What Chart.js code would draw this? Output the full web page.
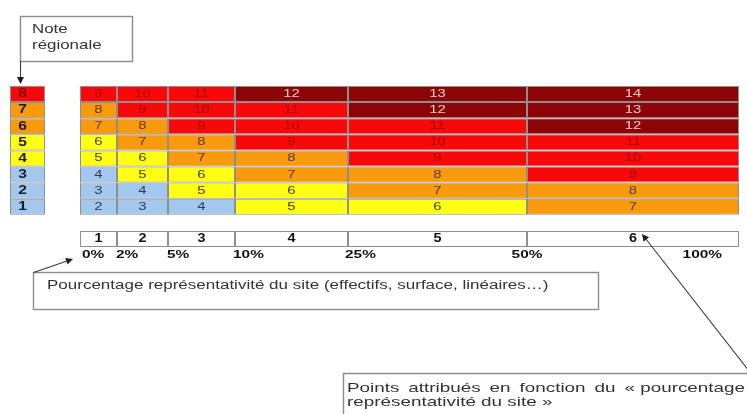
<!DOCTYPE html>
<html>
<head>
<meta charset="utf-8">
<script src="https://cdn.jsdelivr.net/npm/chart.js@4"></script>
<style>
html,body{margin:0;padding:0;background:#fff;}
#wrap{width:747px;height:414px;position:relative;}
</style>
</head>
<body>
<div id="wrap"><canvas id="c" width="747" height="414"></canvas></div>
<script>
// ---------- DATA ----------
const notes = [8, 7, 6, 5, 4, 3, 2, 1];            // note régionale, top to bottom
const points = [1, 2, 3, 4, 5, 6];                 // points attribués per class
const percentTicks = ['0%', '2%', '5%', '10%', '25%', '50%', '100%'];
const scoresCol1 = [9, 8, 7, 6, 5, 4, 3, 2];       // top to bottom
const scoresCol2 = [10, 9, 8, 7, 6, 5, 4, 3];
const scoresCol3 = [11, 10, 9, 8, 7, 6, 5, 4];
const scoresCol4 = [12, 11, 10, 9, 8, 7, 6, 5];
const scoresCol5 = [13, 12, 11, 10, 9, 8, 7, 6];
const scoresCol6 = [14, 13, 12, 11, 10, 9, 8, 7];
const scores = [scoresCol1, scoresCol2, scoresCol3, scoresCol4, scoresCol5, scoresCol6];
const noteTitle = ['Note', 'régionale'];
const pctTitle = 'Pourcentage représentativité du site (effectifs, surface, linéaires…)';
const ptsTitle1 = ['Points', 'attribués', 'en', 'fonction', 'du', '«\u00a0pourcentage'];
const ptsTitle2 = 'représentativité du site »';

// ---------- LAYOUT / STYLE ----------
const noteEdges = [10, 45];
const colEdges = [80, 117, 168, 235, 348, 527, 739];
const tickLayout = [[2,'left'],[-1,'left'],[-1,'left'],[-2,'left'],[-3,'left'],[0,'center'],[-17,'right']];
const FONT = "'Liberation Sans', Arial, sans-serif";
const C = {
  blue: '#a3c8ef', yellow: '#ffff14', orange: '#f99a0c', red: '#f80808', dark: '#8c0404'
};
function scoreColor(s){
  if (s <= 4) return C.blue;
  if (s <= 6) return C.yellow;
  if (s <= 8) return C.orange;
  if (s <= 11) return C.red;
  return C.dark;
}
function noteColor(n){
  if (n <= 3) return C.blue;
  if (n <= 5) return C.yellow;
  if (n <= 7) return C.orange;
  return C.red;
}
function textColorFor(bg){
  if (bg === C.red) return '#a60000';
  if (bg === C.dark) return '#f0cccc';
  if (bg === C.orange) return '#5a3a12';
  if (bg === C.blue) return '#2f3a55';
  return '#3c3c2a';
}

const yLabels = notes.map(String).concat(['', 'pts']);
const ROWS = yLabels.length;

const datasets = [];
// note régionale column
datasets.push({
  label: 'note',
  data: yLabels.map((l, i) => i < notes.length ? [noteEdges[0], noteEdges[1]] : null),
  backgroundColor: yLabels.map((l, i) => i < notes.length ? noteColor(notes[i]) : 'transparent'),
  _texts: yLabels.map((l, i) => i < notes.length ? String(notes[i]) : ''),
  _bold: true
});
// score columns + points bar
points.forEach((p, c) => {
  const bg = [], txt = [], data = [];
  for (let i = 0; i < ROWS; i++) {
    if (i < notes.length) {
      data.push([colEdges[c], colEdges[c + 1]]);
      bg.push(scoreColor(scores[c][i]));
      txt.push(String(scores[c][i]));
    } else if (i === ROWS - 1) {
      data.push([colEdges[c], colEdges[c + 1]]);
      bg.push('#ffffff');
      txt.push(String(p));
    } else {
      data.push(null); bg.push('transparent'); txt.push('');
    }
  }
  datasets.push({ label: 'classe ' + p, data, backgroundColor: bg, _texts: txt });
});
datasets.forEach(d => {
  d.borderColor = 'rgba(105,105,105,0.75)';
  d.borderWidth = 1;
  d.borderSkipped = false;
  d.barPercentage = 1;
  d.categoryPercentage = 1;
  d.inflateAmount = 0;
  d.grouped = false;
});

function drawText(ctx, str, x, y, font, color, align, sx){
  ctx.save();
  ctx.translate(x, y);
  ctx.scale(sx || 1, 1);
  ctx.font = font;
  ctx.fillStyle = color;
  ctx.textAlign = align || 'left';
  ctx.textBaseline = 'middle';
  ctx.fillText(str, 0, 0);
  ctx.restore();
}
function arrow(ctx, x1, y1, x2, y2){
  ctx.save();
  ctx.strokeStyle = '#3a3a3a';
  ctx.fillStyle = '#1e1e1e';
  ctx.lineWidth = 1.1;
  const a = Math.atan2(y2 - y1, x2 - x1);
  const L = 7, W = 3.5;
  const bx = x2 - L * Math.cos(a), by = y2 - L * Math.sin(a);
  ctx.beginPath(); ctx.moveTo(x1, y1); ctx.lineTo(bx, by); ctx.stroke();
  ctx.beginPath();
  ctx.moveTo(x2, y2);
  ctx.lineTo(bx + W * Math.sin(a), by - W * Math.cos(a));
  ctx.lineTo(bx - W * Math.sin(a), by + W * Math.cos(a));
  ctx.closePath(); ctx.fill();
  ctx.restore();
}

const overlay = {
  id: 'overlay',
  afterDatasetsDraw(chart){
    const ctx = chart.ctx;
    const xs = chart.scales.x, ys = chart.scales.y;
    // cell texts
    chart.data.datasets.forEach((ds, di) => {
      const meta = chart.getDatasetMeta(di);
      meta.data.forEach((el, i) => {
        const t = ds._texts[i];
        if (!t) return;
        const cx = (el.x + el.base) / 2, cy = el.y;
        const bg = ds.backgroundColor[i];
        if (i === ROWS - 1) {
          drawText(ctx, t, cx, cy, 'bold 12px ' + FONT, '#111', 'center', 1.2);
        } else if (ds._bold) {
          drawText(ctx, t, cx - 5, cy, 'bold 12px ' + FONT, bg === C.red ? '#8a0000' : '#1a1a2a', 'center', 1.3);
        } else {
          drawText(ctx, t, cx, cy, '11px ' + FONT, textColorFor(bg), 'center', 1.35);
        }
      });
    });
    // percent ticks under the points bar
    const ptsRowBottom = ys.getPixelForValue(ROWS - 1) + (ys.getPixelForValue(1) - ys.getPixelForValue(0)) / 2;
    percentTicks.forEach((t, i) => {
      const px = xs.getPixelForValue(colEdges[i]) + tickLayout[i][0];
      drawText(ctx, t, px, ptsRowBottom + 8, 'bold 11px ' + FONT, '#111', tickLayout[i][1], 1.4);
    });
    // annotation boxes
    ctx.save();
    ctx.strokeStyle = '#8c8c8c';
    ctx.lineWidth = 1.4;
    ctx.strokeRect(20.5, 16.5, 112, 45);
    ctx.strokeRect(33.5, 272.5, 565, 37);
    ctx.beginPath(); ctx.moveTo(343.5, 414); ctx.lineTo(343.5, 373.5); ctx.lineTo(747, 373.5); ctx.stroke();
    ctx.restore();
    drawText(ctx, noteTitle[0], 32, 29, '13px ' + FONT, '#333', 'left', 1.3);
    drawText(ctx, noteTitle[1], 32, 45, '13px ' + FONT, '#333', 'left', 1.3);
    drawText(ctx, pctTitle, 47, 286, '12.5px ' + FONT, '#333', 'left', 1.36);
    // justified first line of third box
    ctx.save();
    ctx.font = '13px ' + FONT;
    const sx3 = 1.45;
    const widths = ptsTitle1.map(w => ctx.measureText(w).width * sx3);
    const total = widths.reduce((a, b) => a + b, 0);
    const gap = (745 - 347 - total) / (ptsTitle1.length - 1);
    ctx.restore();
    let wx = 347;
    ptsTitle1.forEach((w, i) => {
      drawText(ctx, w, wx, 388, '13px ' + FONT, '#333', 'left', sx3);
      wx += widths[i] + gap;
    });
    drawText(ctx, ptsTitle2, 347, 402, '13px ' + FONT, '#333', 'left', sx3);
    // arrows
    arrow(ctx, 20.5, 61, 20.5, 84);
    arrow(ctx, 33.5, 272.5, 73, 259);
    arrow(ctx, 749, 371, 642, 234);
  }
};

new Chart(document.getElementById('c'), {
  type: 'bar',
  data: { labels: yLabels, datasets },
  options: {
    indexAxis: 'y',
    responsive: false,
    animation: false,
    events: [],
    layout: { padding: { top: 86, bottom: 414 - 247, left: 0, right: 0 } },
    plugins: { legend: { display: false }, tooltip: { enabled: false } },
    scales: {
      x: { type: 'linear', min: 0, max: 747, display: false },
      y: { type: 'category', display: false, offset: true }
    }
  },
  plugins: [overlay]
});
</script>
</body>
</html>
